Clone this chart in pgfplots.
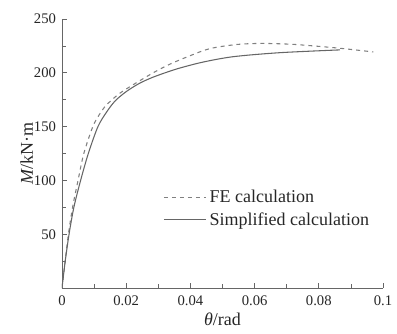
\documentclass[border=0pt]{standalone}
\usepackage{fontspec}
\setmainfont{Liberation Serif}
\usepackage{pgfplots}
\pgfplotsset{compat=1.18}
\begin{document}
\begin{tikzpicture}
\useasboundingbox (-46.5pt,-33.75pt) rectangle (251.25pt,216pt);
\begin{axis}[
  at={(0,0)}, anchor=south west,
  scale only axis, width=240.75pt, height=201.75pt,
  xmin=0, xmax=0.1, ymin=0, ymax=250,
  axis x line*=bottom, axis y line*=left,
  axis line style={gray!80!black, line width=0.5pt, -},
  xtick={0,0.02,0.04,0.06,0.08,0.1},
  xticklabels={0,0.02,0.04,0.06,0.08,0.1},
  minor xtick={0.01,0.03,0.05,0.07,0.09},
  ytick={50,100,150,200,250},
  yticklabels={50,100,150,200,250},
  minor ytick={25,75,125,175,225},
  tick align=inside,
  major tick length=4pt, minor tick length=3pt,
  tick style={gray!80!black, line width=0.5pt},
  tick label style={font=\fontsize{11}{13}\selectfont, text=black!85},
  /pgf/number format/assume math mode=true,
  xticklabel style={yshift=-2pt},
  yticklabel style={xshift=-1pt},
  xlabel={\textit{θ}/rad},
  ylabel={\textit{M}/kN·m},
  label style={font=\fontsize{13.5}{16}\selectfont, text=black!85},
  xlabel style={at={(axis description cs:0.5,0)}, anchor=north, yshift=-15pt},
  ylabel style={at={(axis description cs:-0.11,0.5)}, anchor=center, rotate=0},
  legend style={at={(0.311,0.379)}, anchor=north west, draw=none, fill=none,
    font=\fontsize{13.5}{15}\selectfont, text=black!85, row sep=1.8pt,
    inner sep=1pt},
  legend cell align=left,
  legend image code/.code={\draw[#1] (0cm,0cm) -- (1.12cm,0cm);},
]
\addplot[gray, dashed, line width=0.8pt, smooth, tension=0.5] coordinates {
(0,0) (0.001,25) (0.002,50) (0.0033,75) (0.005,100) (0.0068,125) (0.0096,150)
(0.0116,161) (0.0135,169) (0.0156,175) (0.018,181) (0.0222,189) (0.0284,200)
(0.0336,208) (0.04,216) (0.0461,222.5) (0.0544,226.3) (0.062,227.3) (0.071,226.6)
(0.0783,225) (0.0866,222.8) (0.097,219.4)
};
\addlegendentry{FE calculation}
\addplot[gray!80!black, line width=0.8pt, smooth, tension=0.5] coordinates {
(0,0) (0.001,25) (0.0022,50) (0.0037,75) (0.0058,100) (0.0082,125) (0.0112,150)
(0.014,164) (0.0166,174) (0.02,182.5) (0.024,190) (0.028,195.5) (0.0326,200.5)
(0.0368,204.5) (0.044,210) (0.0534,215) (0.0679,218.7) (0.0866,221.3)
};
\addlegendentry{Simplified calculation}
\end{axis}
\end{tikzpicture}
\end{document}
